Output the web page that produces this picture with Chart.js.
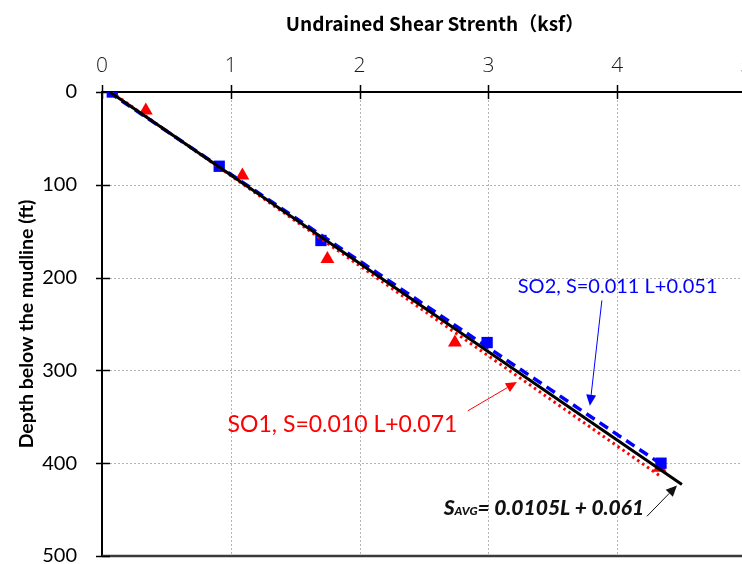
<!DOCTYPE html>
<html>
<head>
<meta charset="utf-8">
<script src="https://cdn.jsdelivr.net/npm/chart.js@4.4.1/dist/chart.umd.min.js"></script>
<style>
  html, body { margin: 0; padding: 0; background: #fff; overflow: hidden; }
  #wrap { width: 780px; height: 564px; }
</style>
</head>
<body>
<div id="wrap"><canvas id="chart" width="780" height="564"></canvas></div>
<script>
// undrained shear strength (ksf) vs depth below mudline (ft)
const strengthTicks = [0, 1, 2, 3, 4, 5];
const depthTicks = [0, 100, 200, 300, 400, 500];

const so1Depth = [20, 90, 180, 270, 405];
const so1Strength = [0.34, 1.09, 1.75, 2.74, 4.33];

const so2Depth = [0, 80, 160, 270, 400];
const so2Strength = [0.08, 0.91, 1.70, 2.99, 4.34];

// trend lines as [intercept, slope]:  S = a + b * L
const so1Trend = [0.071, 0.0103];
const so2Trend = [0.051, 0.0107];
const avgTrend = [0.061, 0.0105];
// depth where each trend line stops
const so1TrendEnd = 413;
const so2TrendEnd = 400;
const avgTrendEnd = 423;

const toPoints = (xs, ys) => xs.map((x, i) => ({ x: x, y: ys[i] }));
const trendLine = (coef, end) => [
  { x: coef[0], y: 0 },
  { x: coef[0] + coef[1] * end, y: end }
];

const RED = '#ff0000';
const BLUE = '#0000ff';

// annotation text + arrows, in data units (strength, depth)
const notes = [
  { text: 'SO2, S=0.011 L+0.051', color: BLUE, font: '20px Lato', at: [3.228, 217], from: [3.881, 224.6], to: [3.788, 338.2] },
  { text: 'SO1, S=0.010 L+0.071', color: RED, font: '23px Lato', at: [0.975, 366], from: [2.84, 343.6], to: [3.221, 312.5] }
];
const avgNote = { at: [2.653, 456], from: [4.231, 457.2], to: [4.464, 424.0] };

function arrow(ctx, x1, y1, x2, y2, color) {
  const ang = Math.atan2(y2 - y1, x2 - x1);
  const len = 11, half = 5;
  ctx.save();
  ctx.strokeStyle = color;
  ctx.fillStyle = color;
  ctx.lineWidth = 1;
  ctx.beginPath();
  ctx.moveTo(x1, y1);
  ctx.lineTo(x2 - Math.cos(ang) * len, y2 - Math.sin(ang) * len);
  ctx.stroke();
  ctx.beginPath();
  ctx.moveTo(x2, y2);
  ctx.lineTo(x2 - Math.cos(ang) * len - Math.sin(ang) * half, y2 - Math.sin(ang) * len + Math.cos(ang) * half);
  ctx.lineTo(x2 - Math.cos(ang) * len + Math.sin(ang) * half, y2 - Math.sin(ang) * len - Math.cos(ang) * half);
  ctx.closePath();
  ctx.fill();
  ctx.restore();
}

const decorations = {
  id: 'decorations',
  beforeDatasetsDraw(chart) {
    const { ctx, chartArea: a, scales: { x, y } } = chart;
    ctx.save();
    // dotted grid
    ctx.strokeStyle = '#b4b4b4';
    ctx.lineWidth = 1;
    ctx.setLineDash([2, 2]);
    strengthTicks.slice(1).forEach(v => {
      const px = Math.round(x.getPixelForValue(v)) + 0.5;
      ctx.beginPath();
      ctx.moveTo(px, a.top);
      ctx.lineTo(px, a.bottom);
      ctx.stroke();
    });
    depthTicks.slice(1).forEach(v => {
      const py = Math.round(y.getPixelForValue(v)) + 0.5;
      ctx.beginPath();
      ctx.moveTo(a.left, py);
      ctx.lineTo(a.right, py);
      ctx.stroke();
    });
    ctx.setLineDash([]);
    // solid frame line along the bottom
    ctx.strokeStyle = '#3a3a3a';
    ctx.lineWidth = 2.5;
    ctx.beginPath();
    ctx.moveTo(a.left, a.bottom);
    ctx.lineTo(a.right, a.bottom);
    ctx.stroke();
    // tick marks crossing the axes
    ctx.strokeStyle = '#000';
    ctx.lineWidth = 1.5;
    strengthTicks.forEach(v => {
      const px = Math.round(x.getPixelForValue(v)) + 0.5;
      ctx.beginPath();
      ctx.moveTo(px, a.top - 7);
      ctx.lineTo(px, a.top + 7);
      ctx.stroke();
    });
    depthTicks.forEach(v => {
      const py = Math.round(y.getPixelForValue(v)) + 0.5;
      ctx.beginPath();
      ctx.moveTo(a.left - 6, py);
      ctx.lineTo(a.left + 8, py);
      ctx.stroke();
    });
    ctx.restore();
  },
  afterDraw(chart) {
    const { ctx, scales: { x, y } } = chart;
    const px = p => [x.getPixelForValue(p[0]), y.getPixelForValue(p[1])];
    ctx.save();

    // axis titles
    ctx.fillStyle = '#000';
    ctx.textAlign = 'center';
    ctx.textBaseline = 'middle';
    ctx.font = 'bold 19px "Noto Sans CJK JP"';
    ctx.fillText('Undrained Shear Strenth（ksf）', 435, 24);
    ctx.save();
    ctx.translate(27, 324);
    ctx.rotate(-Math.PI / 2);
    ctx.font = 'bold 19.5px Lato';
    ctx.fillText('Depth below the mudline (ft)', 0, 0);
    ctx.restore();

    // trend line labels
    ctx.textAlign = 'left';
    ctx.textBaseline = 'alphabetic';
    notes.forEach(n => {
      const [tx, ty] = px(n.at);
      ctx.font = n.font;
      ctx.fillStyle = n.color;
      ctx.fillText(n.text, tx, ty);
      const [fx, fy] = px(n.from);
      const [ex, ey] = px(n.to);
      arrow(ctx, fx, fy, ex, ey, n.color);
    });

    // S_AVG label
    let [ax, ay] = px(avgNote.at);
    ctx.fillStyle = '#111';
    ctx.font = 'italic 900 21px Lato';
    ctx.fillText('S', ax, ay);
    ax += ctx.measureText('S').width;
    ctx.font = 'italic 900 12px Lato';
    ctx.fillText('AVG', ax, ay);
    ax += ctx.measureText('AVG').width;
    ctx.font = 'italic 900 21px Lato';
    ctx.fillText('= 0.0105L + 0.061', ax, ay);
    const [fx, fy] = px(avgNote.from);
    const [ex, ey] = px(avgNote.to);
    arrow(ctx, fx, fy, ex, ey, '#111');

    ctx.restore();
  }
};

new Chart(document.getElementById('chart'), {
  type: 'scatter',
  data: {
    datasets: [
      {
        label: 'Average',
        data: trendLine(avgTrend, avgTrendEnd),
        showLine: true,
        borderColor: '#000',
        borderWidth: 3,
        pointRadius: 0,
        order: 0
      },
      {
        label: 'SO2 trend',
        data: trendLine(so2Trend, so2TrendEnd),
        showLine: true,
        borderColor: BLUE,
        borderWidth: 3.5,
        borderDash: [10, 6],
        pointRadius: 0,
        order: 1
      },
      {
        label: 'SO1 trend',
        data: trendLine(so1Trend, so1TrendEnd),
        showLine: true,
        borderColor: RED,
        borderWidth: 3,
        borderDash: [2.5, 3.5],
        pointRadius: 0,
        order: 2
      },
      {
        label: 'SO2',
        data: toPoints(so2Strength, so2Depth),
        pointStyle: 'rect',
        pointRadius: 8,
        backgroundColor: BLUE,
        borderColor: BLUE,
        borderWidth: 0,
        order: 3
      },
      {
        label: 'SO1',
        data: toPoints(so1Strength, so1Depth),
        pointStyle: 'triangle',
        pointRadius: 8,
        backgroundColor: RED,
        borderColor: RED,
        borderWidth: 0,
        order: 4
      }
    ]
  },
  options: {
    responsive: false,
    animation: false,
    layout: { padding: { left: 0, top: 0, right: 34, bottom: 6 } },
    plugins: { legend: { display: false }, tooltip: { enabled: false } },
    scales: {
      x: {
        type: 'linear',
        position: 'top',
        min: 0,
        max: 5,
        afterBuildTicks: s => { s.ticks = strengthTicks.map(v => ({ value: v })); },
        ticks: { padding: 13, color: '#1a1a1a', font: { family: 'Open Sans', size: 21, weight: 300 } },
        grid: { display: false, drawTicks: false },
        border: { color: '#000', width: 2 },
        afterFit: s => {
          s.height = 92;
          s.paddingLeft = s.paddingRight = s.paddingTop = s.paddingBottom = 0;
        }
      },
      y: {
        type: 'linear',
        reverse: true,
        min: 0,
        max: 500,
        afterBuildTicks: s => { s.ticks = depthTicks.map(v => ({ value: v })); },
        ticks: { padding: 25, color: '#000', font: { family: 'Lato', size: 20 } },
        grid: { display: false, drawTicks: false },
        border: { color: '#000', width: 2 },
        afterFit: s => {
          s.width = 102;
          s.paddingLeft = s.paddingRight = s.paddingTop = s.paddingBottom = 0;
        }
      }
    }
  },
  plugins: [decorations]
});
</script>
</body>
</html>
